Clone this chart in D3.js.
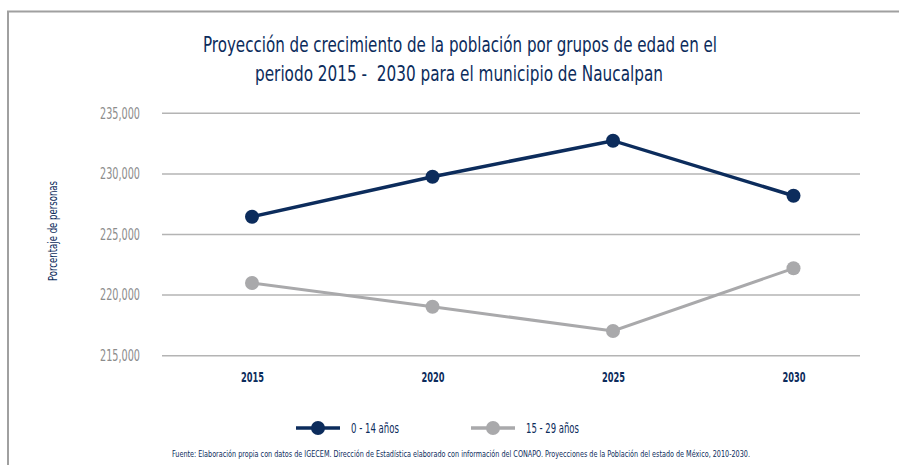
<!DOCTYPE html>
<html>
<head>
<meta charset="utf-8">
<script src="https://cdn.jsdelivr.net/npm/d3@7"></script>
<style>
  body { margin: 0; background: #fff; }
  svg { display: block; }
</style>
</head>
<body>
<div class="main"></div>
<script>
// Datos
const anios = ['2015', '2020', '2025', '2030'];
const grupo_0_14 = [226470, 229770, 232740, 228200];
const grupo_15_29 = [221000, 219040, 217040, 222210];
const nombres = ['0 - 14 años', '15 - 29 años'];
const ticks_y = [215000, 220000, 225000, 230000, 235000];

const width = 899;
const height = 465;
const azul = '#0c2c5c';
const gris = '#a9a9ab';
const fuente = "'Liberation Sans Narrow', 'DejaVu Sans Condensed', sans-serif";

const svg = d3.select('.main')
  .append('svg')
  .attr('width', width)
  .attr('height', height)
  .style('font-family', fuente);

// Marco
svg.append('path')
  .attr('d', `M8,${height} V11.5 H${width}`)
  .attr('fill', 'none')
  .attr('stroke', '#a0a0a0')
  .attr('stroke-width', 2);

// Titulo
const titulo = svg.append('text')
  .attr('text-anchor', 'middle')
  .attr('fill', azul)
  .style('font-size', '22px')
  .style('white-space', 'pre');
titulo.append('tspan').attr('x', 460).attr('y', 52)
  .attr('textLength', 514).attr('lengthAdjust', 'spacingAndGlyphs')
  .text('Proyección de crecimiento de la población por grupos de edad en el');
titulo.append('tspan').attr('x', 459).attr('y', 81)
  .attr('textLength', 408).attr('lengthAdjust', 'spacingAndGlyphs')
  .text('periodo 2015 -  2030 para el municipio de Naucalpan');

// Escalas
const x = d3.scalePoint()
  .domain(anios)
  .range([252, 793.5]);

const y = d3.scaleLinear()
  .domain([215000, 235000])
  .range([355.7, 113.3]);

// Rejilla
svg.append('g')
  .selectAll('line')
  .data(ticks_y)
  .enter()
  .append('line')
  .attr('x1', 162)
  .attr('x2', 860)
  .attr('y1', d => y(d))
  .attr('y2', d => y(d))
  .attr('stroke', '#b4b4b4')
  .attr('stroke-width', 1.5);

// Eje vertical
svg.append('g')
  .attr('transform', 'translate(140,0)')
  .call(d3.axisLeft(y).tickValues(ticks_y).tickFormat(d3.format(',')).tickSize(0).tickPadding(0))
  .call(g => g.select('.domain').remove())
  .call(g => g.selectAll('text')
    .attr('fill', '#8c8c8c')
    .attr('textLength', 40)
    .attr('lengthAdjust', 'spacingAndGlyphs')
    .style('font-family', fuente)
    .style('font-size', '15px'));

// Eje horizontal
svg.append('g')
  .attr('transform', 'translate(0,372)')
  .call(d3.axisBottom(x).tickSize(0).tickPadding(0))
  .call(g => g.select('.domain').remove())
  .call(g => g.selectAll('text')
    .attr('fill', azul)
    .attr('dy', '0.71em')
    .attr('textLength', 23)
    .attr('lengthAdjust', 'spacingAndGlyphs')
    .style('font-family', fuente)
    .style('font-weight', 'bold')
    .style('font-size', '14px'));

// Titulo eje Y
svg.append('text')
  .attr('transform', 'translate(57,231) rotate(-90)')
  .attr('text-anchor', 'middle')
  .attr('fill', azul)
  .attr('textLength', 100)
  .attr('lengthAdjust', 'spacingAndGlyphs')
  .style('font-size', '13px')
  .text('Porcentaje de personas');

// Series
const series = [
  { nombre: nombres[0], valores: grupo_0_14, color: azul, ancho: 3.5, largo: 48 },
  { nombre: nombres[1], valores: grupo_15_29, color: gris, ancho: 3, largo: 53 }
];

const linea = d3.line()
  .x((d, i) => x(anios[i]))
  .y(d => y(d));

series.forEach(s => {
  svg.append('path')
    .datum(s.valores)
    .attr('d', linea)
    .attr('fill', 'none')
    .attr('stroke', s.color)
    .attr('stroke-width', s.ancho);

  svg.append('g')
    .selectAll('circle')
    .data(s.valores)
    .enter()
    .append('circle')
    .attr('cx', (d, i) => x(anios[i]))
    .attr('cy', d => y(d))
    .attr('r', 7)
    .attr('fill', s.color);
});

// Leyenda
const leyenda = svg.append('g')
  .selectAll('g')
  .data(series)
  .enter()
  .append('g')
  .attr('transform', (d, i) => `translate(${318 + i * 175},428)`);

leyenda.append('line')
  .attr('x1', -22).attr('x2', 22)
  .attr('stroke', d => d.color)
  .attr('stroke-width', 3.5);

leyenda.append('circle')
  .attr('r', 7)
  .attr('fill', d => d.color);

leyenda.append('text')
  .attr('x', 33)
  .attr('dy', '0.35em')
  .attr('fill', azul)
  .attr('textLength', d => d.largo)
  .attr('lengthAdjust', 'spacingAndGlyphs')
  .style('font-size', '14px')
  .text(d => d.nombre);

// Fuente
svg.append('text')
  .attr('x', 172)
  .attr('y', 457)
  .attr('fill', azul)
  .attr('textLength', 578)
  .attr('lengthAdjust', 'spacingAndGlyphs')
  .style('font-size', '9px')
  .text('Fuente: Elaboración propia con datos de IGECEM. Dirección de Estadística elaborado con información del CONAPO. Proyecciones de la Población del estado de México, 2010-2030.');
</script>
</body>
</html>
